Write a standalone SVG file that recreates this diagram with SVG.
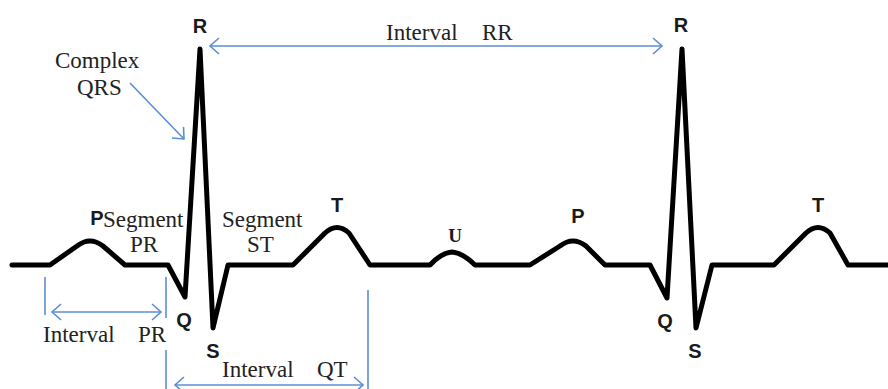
<svg xmlns="http://www.w3.org/2000/svg" width="888" height="389" viewBox="0 0 888 389">
  <style>
    .trace { fill: none; stroke: #000; stroke-width: 5; stroke-linejoin: round; stroke-linecap: round; }
    .wave { font-family: "Liberation Sans", Arial, sans-serif; font-weight: bold; font-size: 20px; fill: #1a1a1a; text-anchor: middle; }
    .note { font-family: "Liberation Serif", "Times New Roman", serif; font-size: 23px; fill: #222; }
    .dim { fill: none; stroke: #5b8ed3; stroke-width: 1.6; }
  </style>
  <defs>
    <marker id="chevron" markerUnits="userSpaceOnUse" viewBox="0 -10 12 20" markerWidth="12" markerHeight="20" refX="10" refY="0" orient="auto-start-reverse">
      <path d="M1,-8 L10,0 L1,8" fill="none" stroke="#5b8ed3" stroke-width="1.6"/>
    </marker>
  </defs>
  <rect width="888" height="389" fill="#fff"/>

  <!-- ECG trace: two beats -->
  <g id="ecg-trace">
    <path class="trace" d="M12,265 L50,265 L77,246 Q90,236 103,246 L125,265 L168,265 L185,297 L200,49 L213,328 L228,265 L293,265 L325,233 Q337,222 349,233 L370,265 L430,265 Q441,253 452,252 Q463,253 475,265 L530,265 L560,246 Q573,236 586,246 L605,265 L650,265 L667,298 L682,49 L696,328 L712,265 L774,265 L806,233 Q818,222 830,233 L848,265 L888,265"/>
  </g>

  <!-- wave letters -->
  <g id="label-P1"><text class="wave" x="97" y="225" font-size="21">P</text></g>
  <g id="label-Q1"><text class="wave" x="184" y="327">Q</text></g>
  <g id="label-R1"><text class="wave" x="200" y="33">R</text></g>
  <g id="label-S1"><text class="wave" x="213" y="358">S</text></g>
  <g id="label-T1"><text class="wave" x="337" y="212">T</text></g>
  <g id="label-U"><text x="455" y="242" font-family="Liberation Serif, serif" font-weight="bold" font-size="19" fill="#1a1a1a" text-anchor="middle">U</text></g>
  <g id="label-P2"><text class="wave" x="578" y="223">P</text></g>
  <g id="label-Q2"><text class="wave" x="665" y="328">Q</text></g>
  <g id="label-R2"><text class="wave" x="681" y="32">R</text></g>
  <g id="label-S2"><text class="wave" x="695" y="358">S</text></g>
  <g id="label-T2"><text class="wave" x="818" y="212">T</text></g>

  <!-- annotations -->
  <g id="note-qrs">
    <text class="note" x="55" y="68">Complex</text>
    <text class="note" x="77" y="95">QRS</text>
  </g>
  <g id="note-rr">
    <text class="note" y="40"><tspan x="386">Interval</tspan><tspan x="482">RR</tspan></text>
  </g>
  <g id="note-segment-pr">
    <text class="note" x="103" y="227">Segment</text>
    <text class="note" x="130" y="252">PR</text>
  </g>
  <g id="note-segment-st">
    <text class="note" x="222" y="227">Segment</text>
    <text class="note" x="247" y="252">ST</text>
  </g>
  <g id="note-interval-pr">
    <text class="note" y="342"><tspan x="43">Interval</tspan><tspan x="138">PR</tspan></text>
  </g>
  <g id="note-interval-qt">
    <text class="note" y="377"><tspan x="222">Interval</tspan><tspan x="317">QT</tspan></text>
  </g>

  <!-- connectors: arrows and extension lines -->
  <g id="connectors">
    <line class="dim" x1="130" y1="83" x2="184" y2="139" marker-end="url(#chevron)"/>
    <line class="dim" x1="210" y1="46" x2="662" y2="46" marker-start="url(#chevron)" marker-end="url(#chevron)"/>
    <line class="dim" x1="45" y1="277" x2="45" y2="315"/>
    <line class="dim" x1="166" y1="277" x2="166" y2="318"/>
    <line class="dim" x1="166" y1="350" x2="166" y2="389"/>
    <line class="dim" x1="52" y1="312" x2="161" y2="312" marker-start="url(#chevron)" marker-end="url(#chevron)"/>
    <line class="dim" x1="368" y1="290" x2="368" y2="389"/>
    <line class="dim" x1="175" y1="385" x2="363" y2="385" marker-start="url(#chevron)" marker-end="url(#chevron)"/>
  </g>
</svg>
